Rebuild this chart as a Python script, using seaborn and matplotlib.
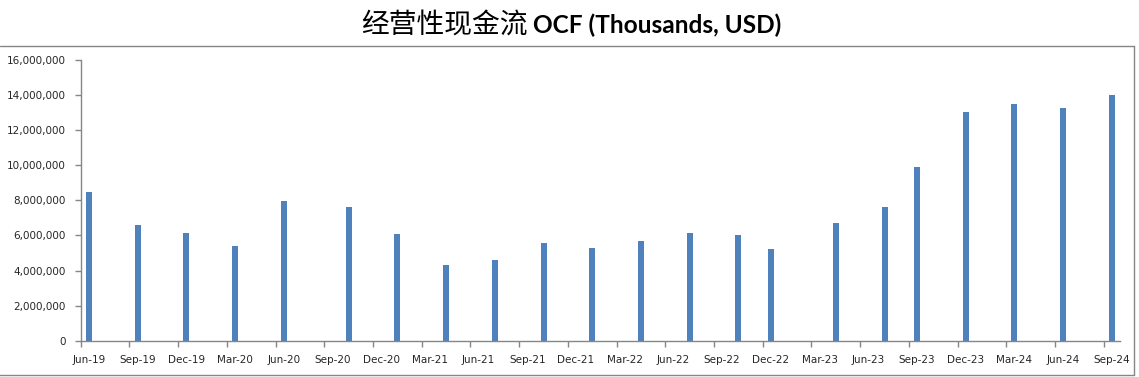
import numpy as np
import pandas as pd
import matplotlib
matplotlib.use("Agg")
import matplotlib.pyplot as plt
from matplotlib.ticker import FuncFormatter, FixedLocator
from matplotlib.lines import Line2D
import seaborn as sns

# reporting periods (month of each filing) and operating cash flow values
periods = ["2019-06", "2019-09", "2019-12", "2020-03", "2020-06", "2020-10",
           "2021-01", "2021-04", "2021-07", "2021-10", "2022-01", "2022-04",
           "2022-07", "2022-10", "2022-12", "2023-04", "2023-07", "2023-09",
           "2023-12", "2024-03", "2024-06", "2024-09"]
ocf = [8470000, 6580000, 6130000, 5380000, 7950000, 7610000,
       6070000, 4300000, 4590000, 5560000, 5270000, 5670000,
       6130000, 6010000, 5210000, 6700000, 7610000, 9890000,
       13030000, 13490000, 13260000, 14000000]

# axis labels every quarter
tick_labels = ["Jun-19", "Sep-19", "Dec-19", "Mar-20", "Jun-20", "Sep-20",
               "Dec-20", "Mar-21", "Jun-21", "Sep-21", "Dec-21", "Mar-22",
               "Jun-22", "Sep-22", "Dec-22", "Mar-23", "Jun-23", "Sep-23",
               "Dec-23", "Mar-24", "Jun-24", "Sep-24"]

title_cn = "经营性现金流"
title_en = "OCF (Thousands, USD)"

# month index from the first period (Excel date axis, base unit = month)
start = pd.Period(periods[0], freq="M")
month_idx = np.array([(pd.Period(p, freq="M") - start).n for p in periods])
label_idx = np.array([(pd.Period(pd.to_datetime(l, format="%b-%y"), freq="M") - start).n
                      for l in tick_labels])

df = pd.DataFrame({"month": month_idx, "ocf": ocf})

sns.set_style("white")
plt.rcParams["font.family"] = ["DejaVu Sans"]

fig = plt.figure(figsize=(11.39, 3.77), dpi=100)
ax = fig.add_axes([0.0709, 0.0963, 0.9124, 0.7445])

bar_w = 0.37 / np.diff(np.sort(month_idx)).min()
sns.barplot(data=df, x="month", y="ocf", native_scale=True, width=bar_w,
            color="#4F81BD", saturation=1, errorbar=None, linewidth=0, ax=ax)

ax.set_xlim(-0.5, label_idx[-1] + 0.5)
ax.set_ylim(0, 16000000)
ax.set_xlabel("")
ax.set_ylabel("")

ax.yaxis.set_major_locator(FixedLocator(np.arange(0, 16000001, 2000000)))
ax.yaxis.set_major_formatter(FuncFormatter(lambda v, p: f"{v:,.0f}"))

# tick marks on the month boundaries, labels in the middle of the month
ax.xaxis.set_major_locator(FixedLocator(label_idx - 0.5))
ax.xaxis.set_major_formatter(FuncFormatter(lambda v, p: ""))
ax.xaxis.set_minor_locator(FixedLocator(label_idx))
ax.set_xticklabels(tick_labels, minor=True)

axis_grey = "#868686"
for s in ["top", "right"]:
    ax.spines[s].set_visible(False)
for s in ["left", "bottom"]:
    ax.spines[s].set_color(axis_grey)
    ax.spines[s].set_linewidth(1)

ax.tick_params(axis="y", which="major", direction="out", length=4, width=1,
               color=axis_grey, labelsize=7.5, pad=7, left=True)
ax.tick_params(axis="x", which="major", direction="out", length=4, width=1,
               color=axis_grey, bottom=True)
ax.tick_params(axis="x", which="minor", length=0, labelsize=7.5, pad=10)
ax.grid(False)

# chart frame: top, right and bottom edges only
W, H = 1139, 377
fx = lambda px: px / W
fy = lambda py: 1 - py / H
frame = [((fx(0), fx(1133.5)), (fy(45.5), fy(45.5))),
         ((fx(1133.5), fx(1133.5)), (fy(45.5), fy(374.5))),
         ((fx(0), fx(1133.5)), (fy(374.5), fy(374.5)))]
for xs, ys in frame:
    fig.lines.append(Line2D(xs, ys, transform=fig.transFigure,
                            color=axis_grey, linewidth=1))

fig.text(fx(528), fy(33), title_cn, ha="right", va="baseline", fontsize=20,
         family=["Noto Sans CJK SC", "DejaVu Sans"], color="black")
fig.text(fx(533), fy(33), title_en, ha="left", va="baseline", fontsize=17.6,
         family=["Lato", "DejaVu Sans"], fontweight="bold", color="black")

fig.savefig("out.png", dpi=100)
